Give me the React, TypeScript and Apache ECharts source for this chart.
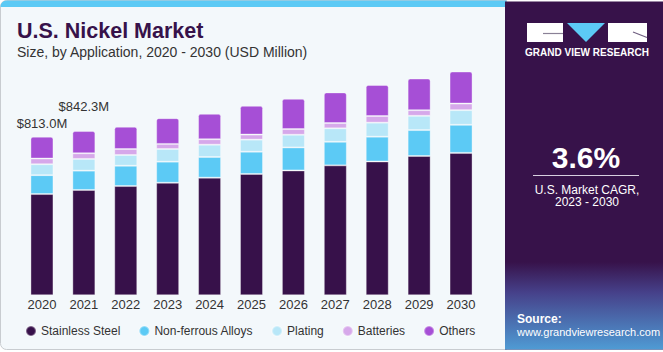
import React, { useEffect, useRef } from "react";
import * as echarts from "echarts";

const years = ["2020", "2021", "2022", "2023", "2024", "2025", "2026", "2027", "2028", "2029", "2030"];
const stainlessSteel = [519, 540, 560, 577, 603, 622, 640, 666, 686, 714, 730];
const nonFerrousAlloys = [97, 99, 104, 108, 106, 114, 118, 121, 127, 133, 144];
const plating = [56, 60, 55, 65, 63, 62, 65, 69, 72, 73, 75];
const batteries = [29, 29, 31, 26, 28, 26, 29, 27, 34, 29, 34];
const others = [112, 114, 114, 132, 130, 147, 155, 157, 159, 162, 164];
const labeledTotals = [813.0, 842.3];
const labelDistances = [7, 18];

const FONT = "'Liberation Sans', Arial, Helvetica, sans-serif";

export default function App() {
  const ref = useRef<HTMLDivElement>(null);

  useEffect(() => {
    document.body.style.margin = "0";
    if (!ref.current) return;
    const chart = echarts.init(ref.current, undefined, { renderer: "svg" });

    const othersData = others.map((v, i) =>
      i < labeledTotals.length
        ? {
            value: v,
            label: {
              show: true,
              position: "top",
              distance: labelDistances[i],
              formatter: () => `$${labeledTotals[i].toFixed(1)}M`,
              color: "#333333",
              fontSize: 13,
              fontFamily: FONT,
            },
          }
        : v
    );

    const seriesDefs = [
      { name: "Stainless Steel", data: stainlessSteel as any[], color: "#37114a" },
      { name: "Non-ferrous Alloys", data: nonFerrousAlloys as any[], color: "#5ccaf5" },
      { name: "Plating", data: plating as any[], color: "#b8e7f8" },
      { name: "Batteries", data: batteries as any[], color: "#d6a8ea" },
      { name: "Others", data: othersData as any[], color: "#a64fd6" },
    ];

    const white = "#ffffff";

    chart.setOption({
      animation: false,
      textStyle: { fontFamily: FONT },
      graphic: [
        {
          type: "rect",
          z: -10,
          shape: { x: 0.5, y: 0.5, width: 506, height: 349, r: [6, 0, 0, 6] },
          style: { fill: "#f3f8fb", stroke: "#c8ccd0", lineWidth: 1 },
        },
        {
          type: "rect",
          z: -9,
          shape: { x: 0.5, y: 0.5, width: 506, height: 6.5, r: [6, 0, 0, 0] },
          style: { fill: "#5ccaf5" },
        },
        {
          type: "rect",
          z: -8,
          shape: { x: 505, y: 1.5, width: 158, height: 348 },
          style: { fill: "#37124a" },
        },
        {
          type: "rect",
          z: -7,
          shape: { x: 505, y: 262, width: 158, height: 87.5 },
          style: {
            fill: new echarts.graphic.LinearGradient(0, 0, 0, 1, [
              { offset: 0, color: "#37124a" },
              { offset: 0.35, color: "#46418a" },
              { offset: 1, color: "#4f9bd4" },
            ]),
          },
        },
        // logo
        { type: "rect", shape: { x: 527, y: 23, width: 36, height: 19 }, style: { fill: white } },
        { type: "polyline", shape: { points: [[563, 33.5], [543, 33.5]] }, style: { stroke: "#8a8196", lineWidth: 1.2, fill: null } },
        { type: "polygon", shape: { points: [[567, 23], [605, 23], [586, 42]] }, style: { fill: "#5ccaf5" } },
        { type: "rect", shape: { x: 608, y: 23, width: 39, height: 19 }, style: { fill: white } },
        { type: "polyline", shape: { points: [[633, 32], [647, 37.5]] }, style: { stroke: "#6f5f80", lineWidth: 1.2, fill: null } },
        {
          type: "text",
          x: 587,
          y: 52.5,
          style: { text: "GRAND VIEW RESEARCH", fill: white, fontSize: 10, fontWeight: "bold", align: "center", verticalAlign: "middle", fontFamily: FONT },
        },
        // titles
        {
          type: "text",
          x: 17,
          y: 30.5,
          style: { text: "U.S. Nickel Market", fill: "#37124a", fontSize: 21.5, fontWeight: "bold", verticalAlign: "middle", fontFamily: FONT },
        },
        {
          type: "text",
          x: 17,
          y: 52,
          style: { text: "Size, by Application, 2020 - 2030 (USD Million)", fill: "#333333", fontSize: 14, verticalAlign: "middle", fontFamily: FONT },
        },
        // CAGR
        {
          type: "text",
          x: 586,
          y: 157,
          style: { text: "3.6%", fill: white, fontSize: 30, fontWeight: "bold", align: "center", verticalAlign: "middle", fontFamily: FONT },
        },
        { type: "line", shape: { x1: 533, y1: 175.5, x2: 639, y2: 175.5 }, style: { stroke: "#d8cfe0", lineWidth: 1 } },
        {
          type: "text",
          x: 587,
          y: 189.5,
          style: { text: "U.S. Market CAGR,", fill: white, fontSize: 12, align: "center", verticalAlign: "middle", fontFamily: FONT },
        },
        {
          type: "text",
          x: 587,
          y: 202,
          style: { text: "2023 - 2030", fill: white, fontSize: 12, align: "center", verticalAlign: "middle", fontFamily: FONT },
        },
        {
          type: "text",
          x: 517,
          y: 318.5,
          style: { text: "Source:", fill: white, fontSize: 12, fontWeight: "bold", verticalAlign: "middle", fontFamily: FONT },
        },
        {
          type: "text",
          x: 517,
          y: 332,
          style: { text: "www.grandviewresearch.com", fill: white, fontSize: 11, verticalAlign: "middle", fontFamily: FONT },
        },
      ],
      legend: {
        left: 20,
        top: 320,
        itemWidth: 10,
        itemHeight: 10,
        itemGap: 18,
        icon: "circle",
        textStyle: { color: "#333333", fontSize: 12, fontFamily: FONT },
        data: seriesDefs.map((s) => s.name),
      },
      grid: { left: 21, right: 181, top: 61.2, bottom: 56.7 },
      xAxis: {
        type: "category",
        data: years,
        axisLine: { show: false },
        axisTick: { show: false },
        axisLabel: { color: "#333333", fontSize: 13, margin: 3, fontFamily: FONT },
      },
      yAxis: { type: "value", min: 0, max: 1200, show: false },
      series: seriesDefs.map((s, idx) => ({
        name: s.name,
        type: "bar",
        stack: "total",
        barWidth: 23,
        data: s.data,
        itemStyle: {
          color: s.color,
          borderColor: "rgba(255,255,255,0.35)",
          borderWidth: 1,
          borderRadius: idx === seriesDefs.length - 1 ? [2, 2, 0, 0] : 0,
        },
      })),
    });

    return () => chart.dispose();
  }, []);

  return <div ref={ref} style={{ width: 663, height: 352 }} />;
}
